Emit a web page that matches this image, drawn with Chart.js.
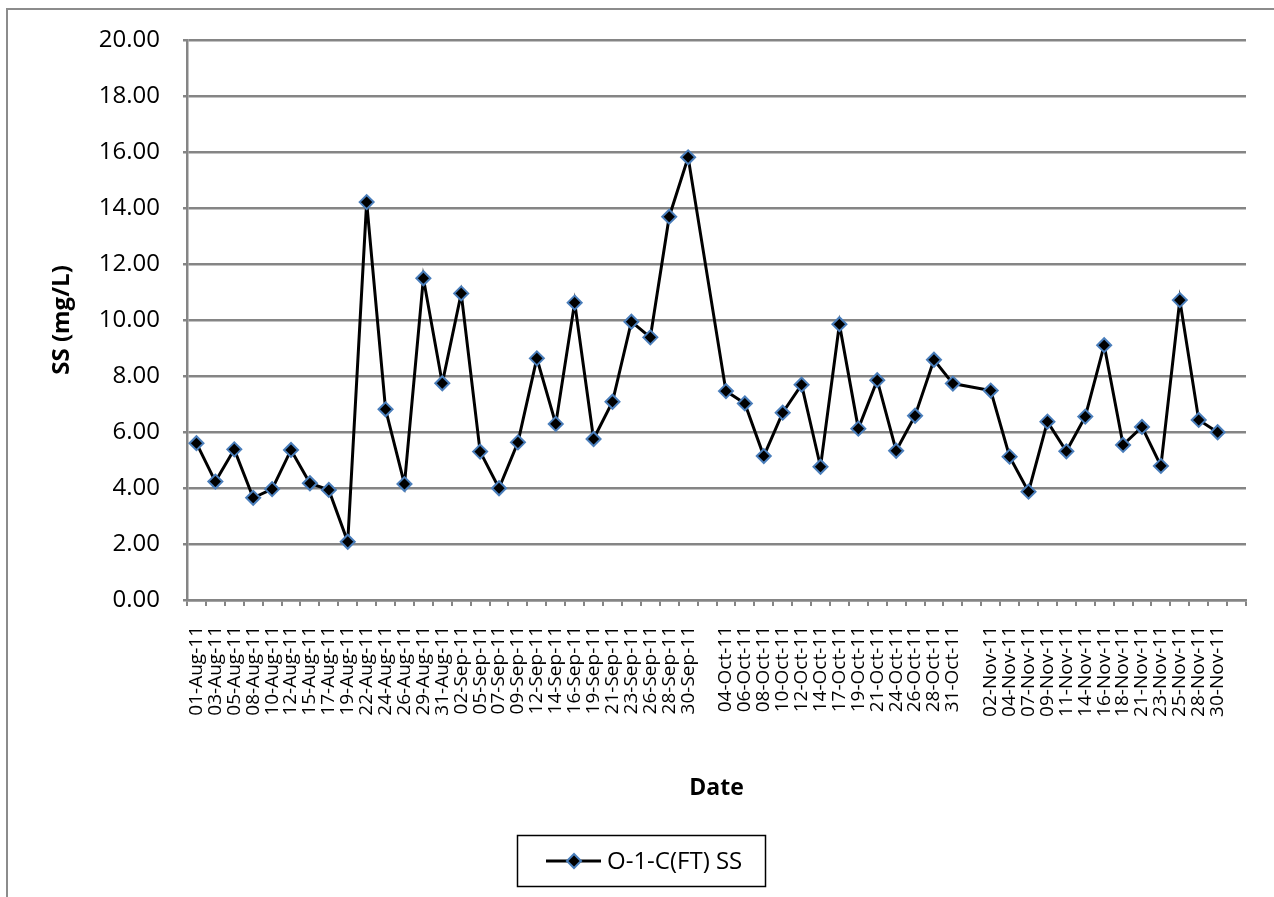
<!DOCTYPE html>
<html lang="en">
<head>
  <meta charset="UTF-8">
  <title>O-1-C(FT) SS</title>
  <script src="https://cdn.jsdelivr.net/npm/chart.js"></script>
  <style>
    html, body {
      margin: 0;
      padding: 0;
      background: #fff;
      overflow: hidden;
    }
    .frame {
      position: absolute;
      left: 6px;
      top: 8px;
      width: 1280px;
      height: 900px;
      border-left: 2px solid #8c8c8c;
      border-top: 2px solid #8c8c8c;
    }
    .chart-box {
      position: absolute;
      left: 0;
      top: 0;
      width: 1274px;
      height: 897px;
    }
  </style>
</head>
<body>
  <div class="frame"></div>
  <div class="chart-box">
    <canvas id="ssChart"></canvas>
  </div>

  <script>
    // sampling dates ('' = empty slot on the category axis)
    const augDates = ['01-Aug-11', '03-Aug-11', '05-Aug-11', '08-Aug-11', '10-Aug-11', '12-Aug-11', '15-Aug-11',
                      '17-Aug-11', '19-Aug-11', '22-Aug-11', '24-Aug-11', '26-Aug-11', '29-Aug-11', '31-Aug-11'];
    const sepDates = ['02-Sep-11', '05-Sep-11', '07-Sep-11', '09-Sep-11', '12-Sep-11', '14-Sep-11', '16-Sep-11',
                      '19-Sep-11', '21-Sep-11', '23-Sep-11', '26-Sep-11', '28-Sep-11', '30-Sep-11'];
    const octDates = ['04-Oct-11', '06-Oct-11', '08-Oct-11', '10-Oct-11', '12-Oct-11', '14-Oct-11', '17-Oct-11',
                      '19-Oct-11', '21-Oct-11', '24-Oct-11', '26-Oct-11', '28-Oct-11', '31-Oct-11'];
    const novDates = ['02-Nov-11', '04-Nov-11', '07-Nov-11', '09-Nov-11', '11-Nov-11', '14-Nov-11', '16-Nov-11',
                      '18-Nov-11', '21-Nov-11', '23-Nov-11', '25-Nov-11', '28-Nov-11', '30-Nov-11'];

    // SS (mg/L)
    const augSS = [5.60, 4.23, 5.38, 3.65, 3.96, 5.36, 4.17, 3.93, 2.08, 14.21, 6.81, 4.14, 11.49, 7.74];
    const sepSS = [10.95, 5.30, 3.99, 5.63, 8.63, 6.29, 10.62, 5.75, 7.08, 9.94, 9.38, 13.69, 15.81];
    const octSS = [7.46, 7.02, 5.14, 6.69, 7.69, 4.76, 9.85, 6.12, 7.85, 5.33, 6.58, 8.58, 7.73];
    const novSS = [7.48, 5.12, 3.87, 6.37, 5.31, 6.55, 9.10, 5.54, 6.18, 4.79, 10.71, 6.43, 5.99];

    const seriesName = 'O-1-C(FT) SS';
    const yTicks = [0, 2, 4, 6, 8, 10, 12, 14, 16, 18, 20];

    const labels = [...augDates, ...sepDates, '', ...octDates, '', ...novDates, ''];
    const values = [...augSS, ...sepSS, null, ...octSS, null, ...novSS, null];

    const FONT = "'Open Sans', 'Liberation Sans', sans-serif";
    const GRID = '#858585';

    // legend box drawn like the spreadsheet one
    const boxLegend = {
      id: 'boxLegend',
      afterDraw(chart) {
        const ctx = chart.ctx;
        ctx.save();
        ctx.strokeStyle = '#000';
        ctx.lineWidth = 1.5;
        ctx.strokeRect(517.5, 835.5, 248, 51);
        ctx.beginPath();
        ctx.moveTo(546, 861);
        ctx.lineTo(601, 861);
        ctx.lineWidth = 3;
        ctx.stroke();
        ctx.beginPath();
        ctx.moveTo(567, 861);
        ctx.lineTo(574, 854);
        ctx.lineTo(581, 861);
        ctx.lineTo(574, 868);
        ctx.closePath();
        ctx.fillStyle = '#000';
        ctx.fill();
        ctx.strokeStyle = '#4a7ebb';
        ctx.lineWidth = 2;
        ctx.stroke();
        ctx.fillStyle = '#000';
        ctx.font = '24px ' + FONT;
        ctx.textBaseline = 'middle';
        ctx.fillText(seriesName, 607, 862);
        ctx.restore();
      }
    };

    new Chart(document.getElementById('ssChart'), {
      type: 'line',
      data: {
        labels: labels,
        datasets: [{
          label: seriesName,
          data: values,
          spanGaps: true,
          borderColor: '#000',
          borderWidth: 3,
          tension: 0,
          pointStyle: 'rectRot',
          pointRadius: 7,
          pointHoverRadius: 7,
          pointBackgroundColor: '#000',
          pointBorderColor: '#4a7ebb',
          pointBorderWidth: 2
        }]
      },
      options: {
        responsive: true,
        maintainAspectRatio: false,
        animation: false,
        layout: {
          padding: { left: 0, right: 28, top: 40, bottom: 87 }
        },
        plugins: {
          legend: { display: false },
          tooltip: { enabled: false }
        },
        scales: {
          x: {
            type: 'category',
            offset: true,
            afterFit: (scale) => {
              scale.height = 210;
              scale.paddingLeft = 0;
              scale.paddingRight = 0;
            },
            grid: {
              offset: true,
              drawOnChartArea: false,
              drawTicks: true,
              tickLength: 6,
              color: GRID,
              lineWidth: 2
            },
            border: { display: true, color: GRID, width: 2.5 },
            ticks: {
              autoSkip: false,
              minRotation: 90,
              maxRotation: 90,
              padding: 20,
              color: '#000',
              font: { family: FONT, size: 19 }
            },
            title: {
              display: true,
              text: 'Date',
              color: '#000',
              font: { family: FONT, size: 23, weight: 'bold' },
              padding: { top: 0, bottom: 8 }
            }
          },
          y: {
            min: 0,
            max: 20,
            afterFit: (scale) => { scale.width = 187; },
            afterBuildTicks: (scale) => { scale.ticks = yTicks.map(v => ({ value: v })); },
            grid: {
              color: GRID,
              lineWidth: 2.5,
              drawTicks: true,
              tickLength: 4
            },
            border: { display: true, color: GRID, width: 2.5 },
            ticks: {
              padding: 23,
              color: '#000',
              font: { family: FONT, size: 24 },
              callback: (v) => Number(v).toFixed(2)
            },
            title: {
              display: true,
              text: 'SS (mg/L)',
              color: '#000',
              font: { family: FONT, size: 24, weight: 'bold' },
              padding: { top: 48, bottom: 0 }
            }
          }
        }
      },
      plugins: [boxLegend]
    });
  </script>
</body>
</html>
